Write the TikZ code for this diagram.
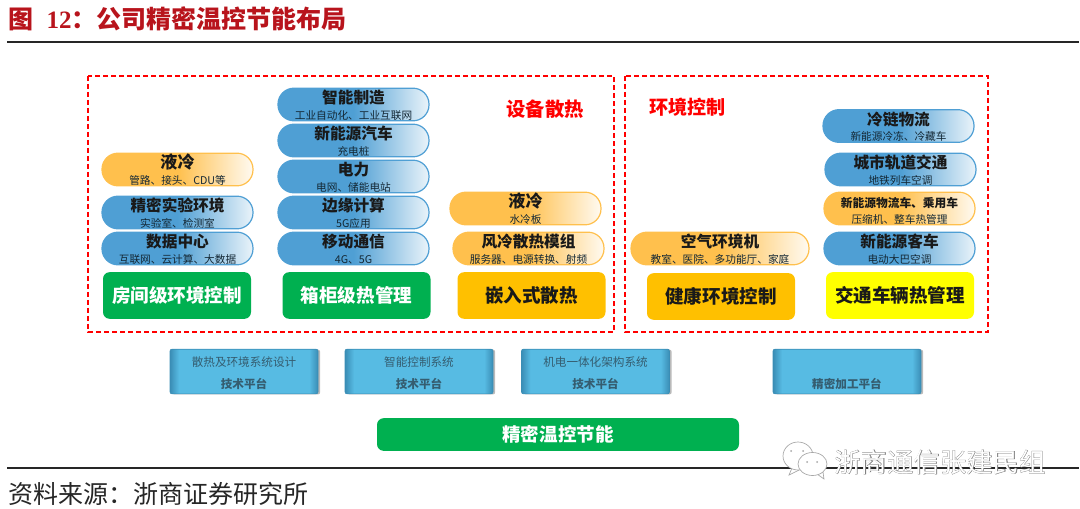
\documentclass[tikz,border=0pt]{standalone}
\usepackage{fontspec}
\setmainfont{Noto Sans CJK SC}
\newfontfamily\latinserif{Liberation Serif}
\newfontfamily\markfont[FakeBold=1.6]{Noto Sans CJK SC}
\usetikzlibrary{shadows}

\definecolor{pillblue}{HTML}{4F9FD4}
\definecolor{pillorange}{HTML}{FFC04D}
\definecolor{boxgreen}{HTML}{00B050}
\definecolor{boxamber}{HTML}{FFC000}
\definecolor{boxyellow}{HTML}{FFFF00}
\definecolor{platblue}{HTML}{57BBE3}
\definecolor{platedge}{HTML}{3A8DB5}
\definecolor{titlered}{HTML}{B8141C}

\pgfdeclarehorizontalshading{bluefade}{100bp}{color(0bp)=(pillblue); color(50bp)=(pillblue); color(75bp)=(white!88!pillblue); color(100bp)=(white)}
\pgfdeclarehorizontalshading{orangefade}{100bp}{color(0bp)=(pillorange); color(50bp)=(pillorange); color(75bp)=(white!92!pillorange); color(100bp)=(white)}
\pgfdeclarehorizontalshading{platfade}{100bp}{color(0bp)=(platedge); color(25bp)=(platedge); color(28bp)=(platblue); color(72bp)=(platblue); color(75bp)=(platedge); color(100bp)=(platedge)}

\newcommand{\headtxt}[1]{{\fontsize{11.75}{12}\selectfont\bfseries\rule{0pt}{11pt}#1}}
\newcommand{\bighead}[1]{{\fontsize{12.8}{12}\selectfont\bfseries\rule{0pt}{11pt}#1}}
\newcommand{\smalltxt}[1]{\smash{\raisebox{0.5pt}{\fontsize{8}{9.5}\selectfont\color{black!75!pillblue}#1}}}

\begin{document}
\begin{tikzpicture}[x=0.75pt, y=-0.75pt,
                    pill/.style={rounded corners=12pt, minimum width=113.25pt, minimum height=24.5pt, inner sep=0pt, align=center, text=black!90},
                    pill_blue/.style={pill, shading=bluefade, draw=pillblue, line width=0.9pt},
                    pill_orange/.style={pill, shading=orangefade, draw=pillorange, line width=0.9pt},
                    base/.style={rounded corners=5pt, minimum width=111pt, minimum height=35pt, inner sep=0pt, font=\fontsize{13.9}{15}\selectfont\bfseries},
                    plat/.style={shading=platfade, draw=platedge, line width=0.5pt, rounded corners=1.5pt, minimum width=111pt, minimum height=33.5pt, inner sep=0pt, align=center, text=black!40!platedge!80!gray, font=\fontsize{8.7}{16.8}\selectfont, drop shadow={shadow xshift=1.6pt, shadow yshift=-0.4pt, fill=black!60, opacity=0.45}},
                    zone/.style={draw=red, dashed, line width=1.2pt, dash pattern=on 4pt off 2pt},
                    rule/.style={line width=1.1pt, black!85},
                    bubble/.style={black!35, fill=white, line width=0.5pt}]

    \useasboundingbox (0,0) rectangle (1080,509);

    % heading and rules
    \node[anchor=west, inner sep=0pt, text=titlered, font=\fontsize{18.75}{20}\selectfont\bfseries] (title) at (8,19) {图\hspace{10pt}{\latinserif 12}：公司精密温控节能布局};
    \coordinate (top_l) at (7,42);
    \coordinate (top_r) at (1079,42);
    \coordinate (bot_l) at (7,468);
    \coordinate (bot_r) at (1079,468);
    \draw[rule] (top_l) -- (top_r);
    \draw[rule] (bot_l) -- (bot_r);
    \node[anchor=west, inner sep=0pt, font=\fontsize{18.75}{20}\selectfont, text=black!85] (source) at (8,494) {资料来源：浙商证券研究所};

    % dashed zones
    \draw[zone] (88,76) rectangle (614,332);
    \draw[zone] (625,76) rectangle (988,332);
    \node[text=red, font=\fontsize{14.5}{15}\selectfont\bfseries] (zone_a) at (545,109) {设备散热};
    \node[text=red, font=\fontsize{14.3}{15}\selectfont\bfseries] (zone_b) at (687.5,107.5) {环境控制};

    % room level
    \node[pill_orange] (r0) at (177.5,169.5) {\bighead{液冷}\\\smalltxt{管路、接头、CDU等}};
    \node[pill_blue] (r1) at (177.5,212.5) {\headtxt{精密实验环境}\\\smalltxt{实验室、检测室}};
    \node[pill_blue] (r2) at (177.5,248.5) {\headtxt{数据中心}\\\smalltxt{互联网、云计算、大数据}};
    \node[base, fill=boxgreen, text=white] (r3) at (177,295.5) {房间级环境控制};

    % cabinet level
    \node[pill_blue] (c0) at (353.5,104.5) {\headtxt{智能制造}\\\smalltxt{工业自动化、工业互联网}};
    \node[pill_blue] (c1) at (353.5,140.5) {\headtxt{新能源汽车}\\\smalltxt{充电桩}};
    \node[pill_blue] (c2) at (353.5,176.5) {\headtxt{电力}\\\smalltxt{电网、储能电站}};
    \node[pill_blue] (c3) at (353.5,212.5) {\headtxt{边缘计算}\\\smalltxt{5G应用}};
    \node[pill_blue] (c4) at (353.5,248.5) {\headtxt{移动通信}\\\smalltxt{4G、5G}};
    \node[base, fill=boxgreen, text=white] (c5) at (356.5,295.5) {箱柜级热管理};

    % embedded
    \node[pill_orange] (e0) at (525.5,208.5) {\bighead{液冷}\\\smalltxt{水冷板}};
    \node[pill_orange] (e1) at (528.5,248.5) {\headtxt{风冷散热模组}\\\smalltxt{服务器、电源转换、射频}};
    \node[base, fill=boxamber, text=black!90] (e2) at (531.5,295.5) {嵌入式散热};

    % healthy environment
    \node[pill_orange, minimum width=133.5pt] (h0) at (720,248.5) {\headtxt{空气环境机}\\\smalltxt{教室、医院、多功能厅、家庭}};
    \node[base, fill=boxamber, text=black!90] (h1) at (721,296.5) {健康环境控制};

    % vehicles
    \node[pill_blue] (t0) at (898.5,126) {\headtxt{冷链物流}\\\smalltxt{新能源冷冻、冷藏车}};
    \node[pill_blue] (t1) at (900.5,169.5) {\headtxt{城市轨道交通}\\\smalltxt{地铁列车空调}};
    \node[pill_orange] (t2) at (899.5,208.5) {{\fontsize{8.8}{12}\selectfont\bfseries\rule{0pt}{11pt}新能源物流车、乘用车}\\\smalltxt{压缩机、整车热管理}};
    \node[pill_blue] (t3) at (899.5,248.5) {\headtxt{新能源客车}\\\smalltxt{电动大巴空调}};
    \node[base, fill=boxyellow, text=black!90] (t4) at (900,295.5) {交通车辆热管理};

    % platforms
    \node[plat] (p0) at (244,371.5) {\rule{0pt}{10pt}散热及环境系统设计\\\textbf{技术平台}};
    \node[plat] (p1) at (419,371.5) {\rule{0pt}{10pt}智能控制系统\\\textbf{技术平台}};
    \node[plat] (p2) at (595.5,371.5) {\rule{0pt}{10pt}机电一体化架构系统\\\textbf{技术平台}};
    \node[plat] (p3) at (847,371.5) {\rule{0pt}{9pt}\\\textbf{精密加工平台}};

    \node[base, fill=boxgreen, text=white, minimum width=271.5pt, minimum height=24.5pt] (root) at (558,434.5) {精密温控节能};

    % watermark
    \draw[bubble] (792,468) -- (789,475) -- (799,470) -- cycle;
    \draw[bubble] (798,456) ellipse (15 and 14);
    \draw[bubble] (817,474) -- (824,479) -- (823,472) -- cycle;
    \draw[bubble] (812.5,464) ellipse (14.5 and 11.5);
    \fill[black!35] (791,451) circle (1) (803,451) circle (1) (807,462) circle (1) (817,462) circle (1);
    \node[text=black!50, inner sep=0pt, font=\fontsize{19.8}{20}\selectfont\markfont] (mark_b) at (940,462) {浙商通信张建民组};
    \node[text=white, inner sep=0pt, font=\fontsize{19.8}{20}\selectfont] (mark_a) at (940,462) {浙商通信张建民组};
\end{tikzpicture}
\end{document}
